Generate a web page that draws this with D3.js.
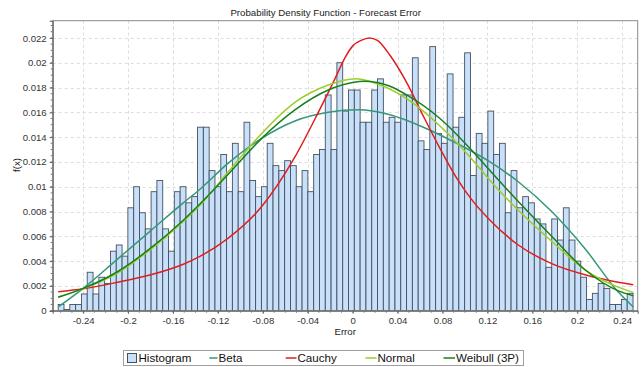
<!DOCTYPE html>
<html>
<head>
<meta charset="utf-8">
<script src="https://cdn.jsdelivr.net/npm/d3@7"></script>
<style>
  html, body { margin: 0; padding: 0; background: #fff; }
  svg { display: block; font-family: "Liberation Sans", Arial, sans-serif; }
</style>
</head>
<body>
<svg id="chart" width="641" height="367"></svg>
<script>
// ---------------- data ----------------
const title = "Probability Density Function - Forecast Error";
const xLabel = "Error";
const yLabel = "f(x)";
const xTicks = [-0.24, -0.2, -0.16, -0.12, -0.08, -0.04, 0, 0.04, 0.08, 0.12, 0.16, 0.2, 0.24];
const yTicks = [0, 0.002, 0.004, 0.006, 0.008, 0.01, 0.012, 0.014, 0.016, 0.018, 0.02, 0.022];
const seriesNames = ["Histogram", "Beta", "Cauchy", "Normal", "Weibull (3P)"];

// histogram: first bin left edge, bin width, and the bin heights (density)
const binStart = -0.2622;
const binWidth = 0.00517;
const histValues = [
  0.0005, 0.0001, 0.0005, 0.0005, 0.00135, 0.0031, 0.00135, 0.0027, 0.0022, 0.0048,
  0.0053, 0.0044, 0.0083, 0.0100, 0.0079, 0.0066, 0.0096, 0.0105, 0.0066, 0.0048,
  0.0096, 0.0100, 0.0087, 0.0092, 0.0148, 0.0148, 0.0113, 0.0100, 0.0126, 0.0096,
  0.0135, 0.0096, 0.0152, 0.0105, 0.0092, 0.0100, 0.0135, 0.0117, 0.0113, 0.0121,
  0.0117, 0.0100, 0.0113, 0.0096, 0.0126, 0.0130, 0.0174, 0.0130, 0.0200, 0.0161,
  0.0178, 0.0178, 0.0152, 0.0152, 0.0178, 0.0187, 0.0152, 0.0156, 0.0152, 0.0174,
  0.0174, 0.0204, 0.0137, 0.0130, 0.0213, 0.0143, 0.0135, 0.0191, 0.0148, 0.0156,
  0.0208, 0.0109, 0.0143, 0.0135, 0.0161, 0.0126, 0.0135, 0.0079, 0.0113, 0.0083,
  0.0092, 0.0087, 0.0074, 0.0070, 0.0035, 0.0074, 0.0057, 0.0083, 0.0057, 0.0040,
  0.0027, 0.0009, 0.0014, 0.0022, 0.0018, 0.0005, 0.0005, 0.0009, 0.0014
];

// fitted curves, points [x, f(x)]
const betaPts = [
  [-0.2622, 0.0003], [-0.2399, 0.0018], [-0.2102, 0.0041], [-0.1805, 0.0064],
  [-0.1508, 0.0087], [-0.1360, 0.0098], [-0.1108, 0.0119], [-0.0810, 0.0139],
  [-0.0514, 0.0153], [-0.0217, 0.0160], [0.0050, 0.0162], [0.0332, 0.0158],
  [0.0629, 0.0148], [0.0926, 0.0135], [0.1223, 0.0120], [0.1475, 0.0104],
  [0.1772, 0.0080], [0.2069, 0.0050], [0.2365, 0.0015], [0.2499, 0.0003]
];
const cauchyPts = [
  [-0.2622, 0.00153], [-0.2399, 0.00177], [-0.2102, 0.00228], [-0.1805, 0.00288],
  [-0.1508, 0.00375], [-0.1360, 0.00438], [-0.1108, 0.00585], [-0.0810, 0.0084],
  [-0.0514, 0.0124], [-0.0306, 0.0160], [-0.0158, 0.0187], [-0.0069, 0.0204],
  [0.0005, 0.0214], [0.0075, 0.0218], [0.0148, 0.0220], [0.0220, 0.0218],
  [0.0332, 0.0206], [0.0481, 0.0184], [0.0629, 0.0157], [0.0777, 0.0131],
  [0.0926, 0.0107], [0.1074, 0.0088], [0.1223, 0.0073], [0.1475, 0.0053],
  [0.1772, 0.0038], [0.2069, 0.0029], [0.2365, 0.0023], [0.2499, 0.0021]
];
const normalPts = [
  [-0.2622, 0.00110], [-0.2399, 0.00178], [-0.2102, 0.0030], [-0.1805, 0.0049],
  [-0.1508, 0.0072], [-0.1360, 0.0085], [-0.1108, 0.0112], [-0.0810, 0.0143],
  [-0.0514, 0.0168], [-0.0217, 0.0182], [0.0030, 0.0187], [0.0183, 0.0184],
  [0.0481, 0.0171], [0.0777, 0.0149], [0.1074, 0.0121], [0.1223, 0.0105],
  [0.1475, 0.0081], [0.1772, 0.0056], [0.2069, 0.0033], [0.2365, 0.0019],
  [0.2499, 0.00148]
];
const weibullPts = [
  [-0.2622, 0.00108], [-0.2399, 0.00180], [-0.2102, 0.0031], [-0.1805, 0.0050],
  [-0.1508, 0.0073], [-0.1360, 0.0086], [-0.1108, 0.0110], [-0.0810, 0.0139],
  [-0.0514, 0.0162], [-0.0217, 0.0178], [0.0000, 0.0184], [0.0100, 0.0185],
  [0.0332, 0.0181], [0.0481, 0.0174], [0.0777, 0.0155], [0.1074, 0.0128],
  [0.1223, 0.0113], [0.1475, 0.0088], [0.1772, 0.0060], [0.2069, 0.0033],
  [0.2365, 0.0016], [0.2499, 0.0012]
];

// ---------------- layout / style ----------------
const plot = { left: 52.7, right: 637.7, top: 20.7, bottom: 310.7 };
const xDomain = [-0.2671, 0.2538];
const yDomain = [0, 0.02339];
const colors = {
  barFill: "#c8e0f9", barStroke: "#45505f",
  beta: "#35977a", cauchy: "#e01e1e", normal: "#9dcd2a", weibull: "#16801a"
};

const svg = d3.select("#chart");
const x = d3.scaleLinear().domain(xDomain).range([plot.left, plot.right]);
const y = d3.scaleLinear().domain(yDomain).range([plot.bottom, plot.top]);

svg.append("defs").append("clipPath").attr("id", "clip")
  .append("rect").attr("x", plot.left).attr("y", plot.top)
  .attr("width", plot.right - plot.left).attr("height", plot.bottom - plot.top);

// grid
const grid = svg.append("g").attr("stroke", "#dcdcdc").attr("stroke-dasharray", "3,3").attr("stroke-width", 1);
grid.selectAll(".gx").data(xTicks).join("line")
  .attr("x1", d => Math.round(x(d)) + 0.5).attr("x2", d => Math.round(x(d)) + 0.5)
  .attr("y1", plot.top).attr("y2", plot.bottom);
grid.selectAll(".gy").data(yTicks.filter(d => d > 0)).join("line")
  .attr("y1", d => Math.round(y(d)) + 0.5).attr("y2", d => Math.round(y(d)) + 0.5)
  .attr("x1", plot.left).attr("x2", plot.right);

// histogram
const bins = histValues.map((v, i) => ({ x0: binStart + i * binWidth, x1: binStart + (i + 1) * binWidth, v }));
svg.append("g").attr("clip-path", "url(#clip)")
  .selectAll("rect").data(bins).join("rect")
  .attr("x", d => x(d.x0)).attr("width", d => x(d.x1) - x(d.x0))
  .attr("y", d => y(d.v)).attr("height", d => y(0) - y(d.v))
  .attr("fill", colors.barFill).attr("stroke", colors.barStroke).attr("stroke-width", 0.9);

// curves
const line = d3.line().x(d => x(d[0])).y(d => y(d[1])).curve(d3.curveMonotoneX);
const curves = svg.append("g").attr("clip-path", "url(#clip)").attr("fill", "none").attr("stroke-width", 1.5);
[[betaPts, colors.beta], [cauchyPts, colors.cauchy], [normalPts, colors.normal], [weibullPts, colors.weibull]]
  .forEach(([pts, c]) => curves.append("path").attr("d", line(pts)).attr("stroke", c));

// frame
svg.append("rect").attr("x", plot.left).attr("y", plot.top)
  .attr("width", plot.right - plot.left).attr("height", plot.bottom - plot.top)
  .attr("fill", "none").attr("stroke", "#8a8a8a").attr("stroke-width", 1);

// axes
const xAxis = d3.axisBottom(x).tickValues(xTicks).tickSize(3).tickPadding(3)
  .tickFormat(d => String(+d.toFixed(2)));
const gx = svg.append("g").attr("transform", `translate(0,${plot.bottom})`).call(xAxis);
const yAxis = d3.axisLeft(y).tickValues(yTicks).tickSize(3).tickPadding(3)
  .tickFormat(d => String(+d.toFixed(3)));
const gy = svg.append("g").attr("transform", `translate(${plot.left},0)`).call(yAxis);
[gx, gy].forEach(g => {
  g.select(".domain").attr("stroke", "#555");
  g.selectAll(".tick line").attr("stroke", "#555");
  g.selectAll("text").attr("fill", "#333").style("font-size", "9.6px").style("font-family", "Liberation Sans, Arial, sans-serif");
});
// minor ticks
const yMinor = d3.range(0, yDomain[1], 0.0005);
svg.append("g").selectAll("line").data(yMinor).join("line")
  .attr("x1", plot.left - 2).attr("x2", plot.left)
  .attr("y1", d => y(d)).attr("y2", d => y(d)).attr("stroke", "#777");
const xMinor = d3.range(-0.26, xDomain[1], 0.01);
svg.append("g").selectAll("line").data(xMinor).join("line")
  .attr("y1", plot.bottom).attr("y2", plot.bottom + 2)
  .attr("x1", d => x(d)).attr("x2", d => x(d)).attr("stroke", "#777");

// titles
svg.append("text").attr("x", 325.7).attr("y", 16).attr("text-anchor", "middle")
  .style("font-size", "9.7px").attr("fill", "#222").text(title);
svg.append("text").attr("x", (plot.left + plot.right) / 2).attr("y", 335).attr("text-anchor", "middle")
  .style("font-size", "9.7px").attr("fill", "#222").text(xLabel);
svg.append("text").attr("transform", "translate(20,165) rotate(-90)").attr("text-anchor", "middle")
  .style("font-size", "9.7px").attr("fill", "#222").text(yLabel);

// legend
const lg = svg.append("g");
lg.append("rect").attr("x", 123.5).attr("y", 350.5).attr("width", 400).attr("height", 15)
  .attr("fill", "#fff").attr("stroke", "#a0a0a0");
const items = [
  { name: seriesNames[0], type: "box", sx: 127.5, tx: 138.5, c: colors.barFill },
  { name: seriesNames[1], type: "line", sx: 209.3, tx: 218.5, c: colors.beta },
  { name: seriesNames[2], type: "line", sx: 285.7, tx: 297.5, c: colors.cauchy },
  { name: seriesNames[3], type: "line", sx: 365.5, tx: 377.5, c: colors.normal },
  { name: seriesNames[4], type: "line", sx: 443.5, tx: 456, c: colors.weibull }
];
items.forEach(it => {
  if (it.type === "box") {
    lg.append("rect").attr("x", it.sx).attr("y", 353.5).attr("width", 9).attr("height", 9)
      .attr("fill", it.c).attr("stroke", "#45505f");
  } else {
    lg.append("line").attr("x1", it.sx).attr("x2", it.tx - 1).attr("y1", 358).attr("y2", 358)
      .attr("stroke", it.c).attr("stroke-width", 1.5);
  }
  lg.append("text").attr("x", it.tx).attr("y", 362.3).style("font-size", "11.6px").attr("fill", "#111").text(it.name);
});
</script>
</body>
</html>
